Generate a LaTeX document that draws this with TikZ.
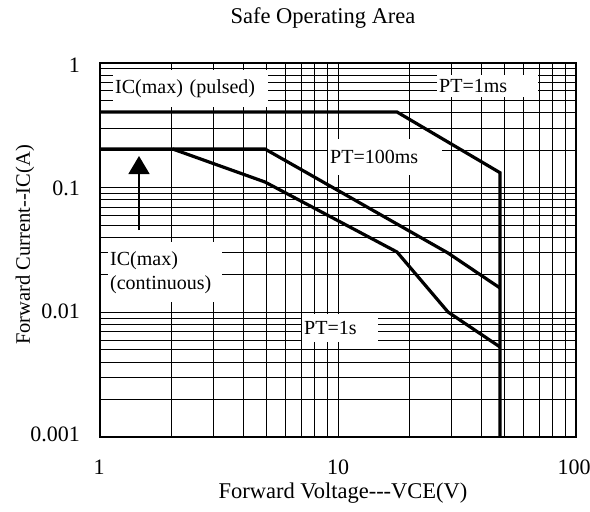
\documentclass[tikz,border=0pt]{standalone}
\usepackage{fontspec}
\setmainfont{Liberation Serif}
\usetikzlibrary{arrows.meta}
\begin{document}
\begin{tikzpicture}[x=1pt,y=-1pt,
  gridline/.style={black,line width=1pt},
  curve/.style={black,line width=3.2pt,line join=miter},
  lbl/.style={fill=white,inner xsep=2pt,inner ysep=0pt,anchor=north west,align=left,font=\fontsize{20}{24}\selectfont},
  ticklbl/.style={inner sep=0pt,font=\fontsize{22}{24}\selectfont},
  axtitle/.style={inner sep=0pt,font=\fontsize{22.5}{24}\selectfont}]
\useasboundingbox (0,0) rectangle (590,512);
\fill[white] (0,0) rectangle (590,512);
% vertical grid
\foreach \d in {0,1}{
  \foreach \k in {2,...,9}{
    \pgfmathsetmacro\xx{100+238*(\d+log10(\k))}
    \draw[gridline] (\xx,63) -- (\xx,437);
  }
}
\draw[gridline] (338,63) -- (338,437);
% horizontal grid
\foreach \d in {0,1,2}{
  \foreach \k in {2,...,9}{
    \pgfmathsetmacro\yy{63+124.7*(\d+1-log10(\k))}
    \draw[gridline] (100,\yy) -- (576,\yy);
  }
}
\draw[gridline] (100,187.7) -- (576,187.7);
\draw[gridline] (100,312.4) -- (576,312.4);
% frame
\draw[black,line width=1.2pt] (100,63) rectangle (576,437);
% label boxes
\node[lbl,text width=151pt,minimum height=37pt] (pulsed) at (113,70) {IC(max) (pulsed)};
\node[lbl,text width=97pt,minimum height=22pt] (pt1ms) at (437,75) {PT=1ms};
\node[lbl,text width=110pt,minimum height=36pt] (pt100) at (328,139) {PT=100ms};
\node[lbl,text width=110pt,minimum height=60pt] (cont) at (108,242) {IC(max)\\(continuous)};
\node[lbl,text width=72pt,minimum height=28pt] (pt1s) at (302,314) {PT=1s};
% curves
\draw[curve] (100,112) -- (397,112) -- (500,172.7) -- (500,437);
\draw[curve] (100,149) -- (265,149) -- (448,253) -- (500,288);
\draw[curve] (172.7,149) -- (265,182) -- (397,252) -- (448,312) -- (500,347);
% arrow
\coordinate (arrS) at (139,230);
\coordinate (arrE) at (139,156);
\draw[black,line width=1.5pt,-{Triangle[width=21pt,length=18pt]}] (arrS) -- (arrE);
% tick labels
\node[ticklbl,anchor=east] (y1) at (80,65) {1};
\node[ticklbl,anchor=east] (y2) at (80,188) {0.1};
\node[ticklbl,anchor=east] (y3) at (80,311) {0.01};
\node[ticklbl,anchor=east] (y4) at (80,434) {0.001};
\node[ticklbl] (x1) at (99,467) {1};
\node[ticklbl] (x2) at (338,467) {10};
\node[ticklbl] (x3) at (574,467) {100};
% titles
\node[axtitle] (title) at (323,18) {Safe Operating Area};
\node[axtitle] (xt) at (343,493) {Forward Voltage{-}{-}{-}VCE(V)};
\node[axtitle,rotate=90,font=\fontsize{20.5}{24}\selectfont] (yt) at (25,245) {Forward Current{-}{-}IC(A)};
\end{tikzpicture}
\end{document}
